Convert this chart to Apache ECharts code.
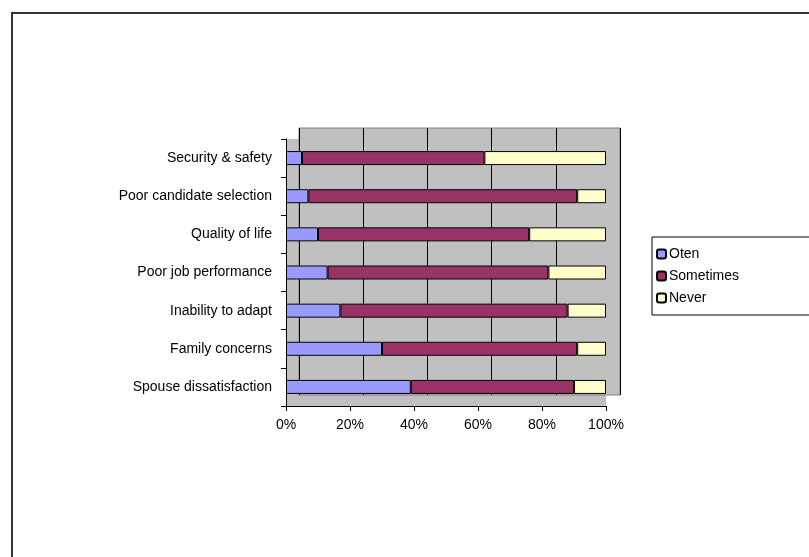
<!DOCTYPE html>
<html>
<head>
<meta charset="utf-8">
<script src="https://cdn.jsdelivr.net/npm/echarts@6/dist/echarts.min.js"></script>
<style>
  html, body { margin: 0; padding: 0; background: #fff; }
  #chart { width: 809px; height: 557px; }
</style>
</head>
<body>
<div id="chart"></div>
<script>
// categories, bottom to top
var categories = [
  "Spouse dissatisfaction",
  "Family concerns",
  "Inability to adapt",
  "Poor job performance",
  "Quality of life",
  "Poor candidate selection",
  "Security & safety"
];
var often     = [39, 30, 17, 13, 10, 7, 5];
var sometimes = [51, 61, 71, 69, 66, 84, 57];
var never     = [10, 9, 12, 18, 24, 9, 38];
var xTicks = [0, 20, 40, 60, 80, 100];

var chart = echarts.init(document.getElementById("chart"));

var font = "Liberation Sans, Arial, sans-serif";

function barSeries(name, data, color) {
  return {
    name: name,
    type: "bar",
    stack: "total",
    xAxisIndex: 1,
    yAxisIndex: 1,
    barWidth: 14,
    z: 5,
    data: data,
    itemStyle: { color: color, borderColor: "#000", borderWidth: 1 }
  };
}

var option = {
  animation: false,
  backgroundColor: "#fff",
  textStyle: { fontFamily: font },
  graphic: [
    // outer chart frame
    { type: "rect", z: 100, shape: { x: 12, y: 13, width: 820, height: 580 },
      style: { fill: "none", stroke: "#333", lineWidth: 2 } }
  ],
  grid: [
    // back wall
    { left: 299, top: 128, width: 321, height: 267, show: true, z: 0,
      backgroundColor: "#c0c0c0", borderColor: "#808080", borderWidth: 1 },
    // front plane (floor / side wall fill)
    { left: 286, top: 139, width: 320, height: 267, show: true, z: -1,
      backgroundColor: "#c0c0c0", borderWidth: 0 }
  ],
  legend: {
    orient: "vertical",
    left: 652,
    top: 237,
    padding: [9, 90, 9, 4],
    itemGap: 6,
    itemWidth: 9,
    itemHeight: 9,
    borderColor: "#000",
    borderWidth: 1,
    textStyle: { fontFamily: font, fontSize: 14, color: "#000", lineHeight: 16, padding: [0, 0, 0, -2] },
    data: ["Often", "Sometimes", "Never"],
    formatter: function (n) { return n === "Often" ? "Oten" : n; }
  },
  xAxis: [
    { gridIndex: 0, type: "value", min: 0, max: 100, interval: 20,
      axisLine: { show: false }, axisTick: { show: false }, axisLabel: { show: false },
      splitLine: { show: true, lineStyle: { color: "#000", width: 1 } } },
    { gridIndex: 1, type: "value", min: 0, max: 100, interval: 20,
      axisLine: { show: true, lineStyle: { color: "#000", width: 1 } },
      axisTick: { show: true, length: 5, inside: false, lineStyle: { color: "#000" } },
      axisLabel: { color: "#000", fontSize: 14, fontFamily: font, margin: 12,
        formatter: function (v) { return xTicks.indexOf(v) >= 0 ? v + "%" : ""; } },
      splitLine: { show: false } }
  ],
  yAxis: [
    { gridIndex: 0, type: "category", data: categories, show: false },
    { gridIndex: 1, type: "category", data: categories,
      axisLine: { show: true, lineStyle: { color: "#000", width: 1 } },
      axisTick: { show: true, length: 5, lineStyle: { color: "#000" } },
      axisLabel: { color: "#000", fontSize: 14, fontFamily: font, margin: 14 } }
  ],
  series: [
    barSeries("Often", often, "#9999ff"),
    barSeries("Sometimes", sometimes, "#993366"),
    barSeries("Never", never, "#ffffcc")
  ]
};

chart.setOption(option);
</script>
</body>
</html>
